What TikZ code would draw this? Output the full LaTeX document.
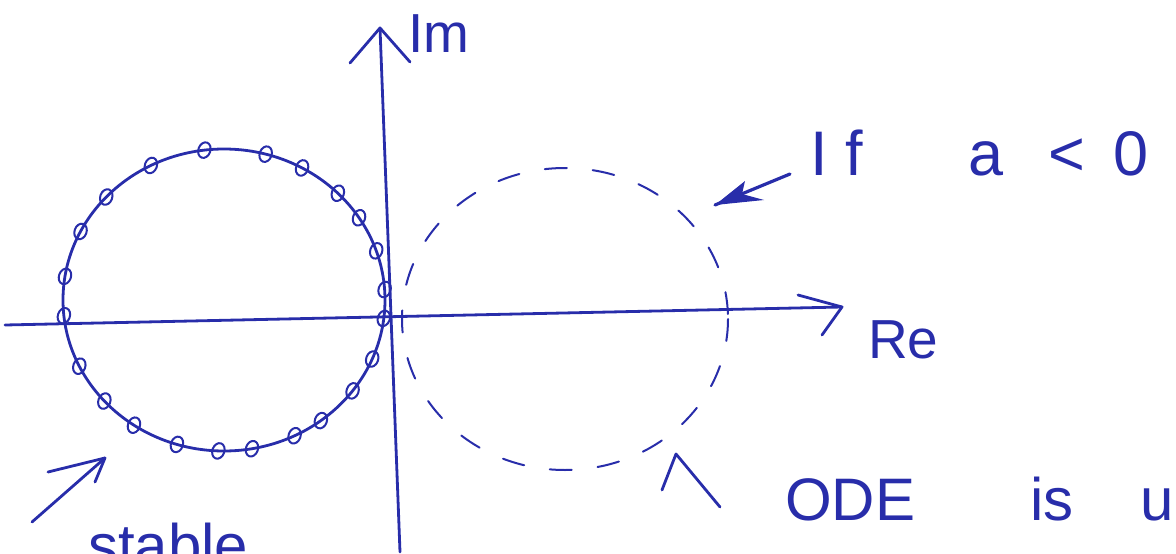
\documentclass[tikz,border=0pt]{standalone}
\usepackage{fontspec}
\setmainfont{Liberation Sans}
\definecolor{ink}{RGB}{40,45,170}
\begin{document}
\begin{tikzpicture}[x=1pt,y=-1pt,
  pen/.style={draw=ink,line width=2.8pt,line cap=round,line join=round},
  thinpen/.style={draw=ink,line width=2pt,line cap=round,line join=round},
  dashpen/.style={draw=ink,line width=2pt,line cap=round,dash pattern=on 22pt off 26pt},
  hand/.style={text=ink,inner sep=0pt,anchor=base west}]
\useasboundingbox (0,0) rectangle (1176,554);
\clip (0,0) rectangle (1176,554);
% axes
\coordinate (imTail) at (400,552);
\coordinate (imTip) at (380,28);
\coordinate (imL) at (350,63);
\coordinate (imR) at (410,62);
\coordinate (reTail) at (5,325);
\coordinate (reTip) at (842,307);
\coordinate (reU) at (798,295);
\coordinate (reD) at (822,335);
\draw[pen] (imTail) -- (imTip);
\draw[pen] (imL) -- (imTip) -- (imR);
\draw[pen] (reTail) -- (reTip);
\draw[pen] (reU) -- (reTip) -- (reD);
% stable circle
\coordinate (c1) at (224,300);
\draw[pen] (c1) ellipse [x radius=161, y radius=151];
\foreach \a in {186,171,153,137,117,97,75,61,45,33,19,4,-7,-23,-37,-53,-64,-80,-92,-107,-124,-138,-154}{
  \pgfmathsetmacro{\px}{224+161*cos(\a)}
  \pgfmathsetmacro{\py}{300-151*sin(\a)}
  \draw[thinpen,rotate around={-20:(\px,\py)}] (\px,\py) ellipse [x radius=6, y radius=8];
}
% unstable dashed circle
\coordinate (c2) at (565,319);
\draw[dashpen] (c2) ellipse [x radius=163, y radius=151];
% labels
\node[hand,font=\fontsize{55}{60}\selectfont] (im) at (408,52) {Im};
\node[hand,font=\fontsize{55}{60}\selectfont] (re) at (868,358) {Re};
\node[hand,font=\fontsize{63}{70}\selectfont] (cond) at (810,175) {I\hspace{18pt}f\hspace{105pt}a\hspace{45pt}<\hspace{28pt}0};
\node[hand,font=\fontsize{60}{66}\selectfont] (ode) at (785,520) {ODE\hspace{115pt}is\hspace{67pt}u};
\node[hand,font=\fontsize{60}{66}\selectfont] (stable) at (88,566) {stable};
% arrows
\coordinate (a1tail) at (790,174);
\coordinate (a1tip) at (715,205);
\draw[ink,line width=3.2pt,line cap=round] (a1tail) -- (a1tip);
\fill[ink] (a1tip) -- (745,181) -- (742,194) -- (764,200) -- cycle;
\coordinate (a2tail) at (32,522);
\coordinate (a2tip) at (105,458);
\draw[pen] (a2tail) -- (a2tip);
\draw[pen] (48,472) -- (a2tip) -- (95,482);
\coordinate (a3tip) at (676,454);
\draw[pen] (662,490) -- (a3tip) -- (720,507);
\end{tikzpicture}
\end{document}
